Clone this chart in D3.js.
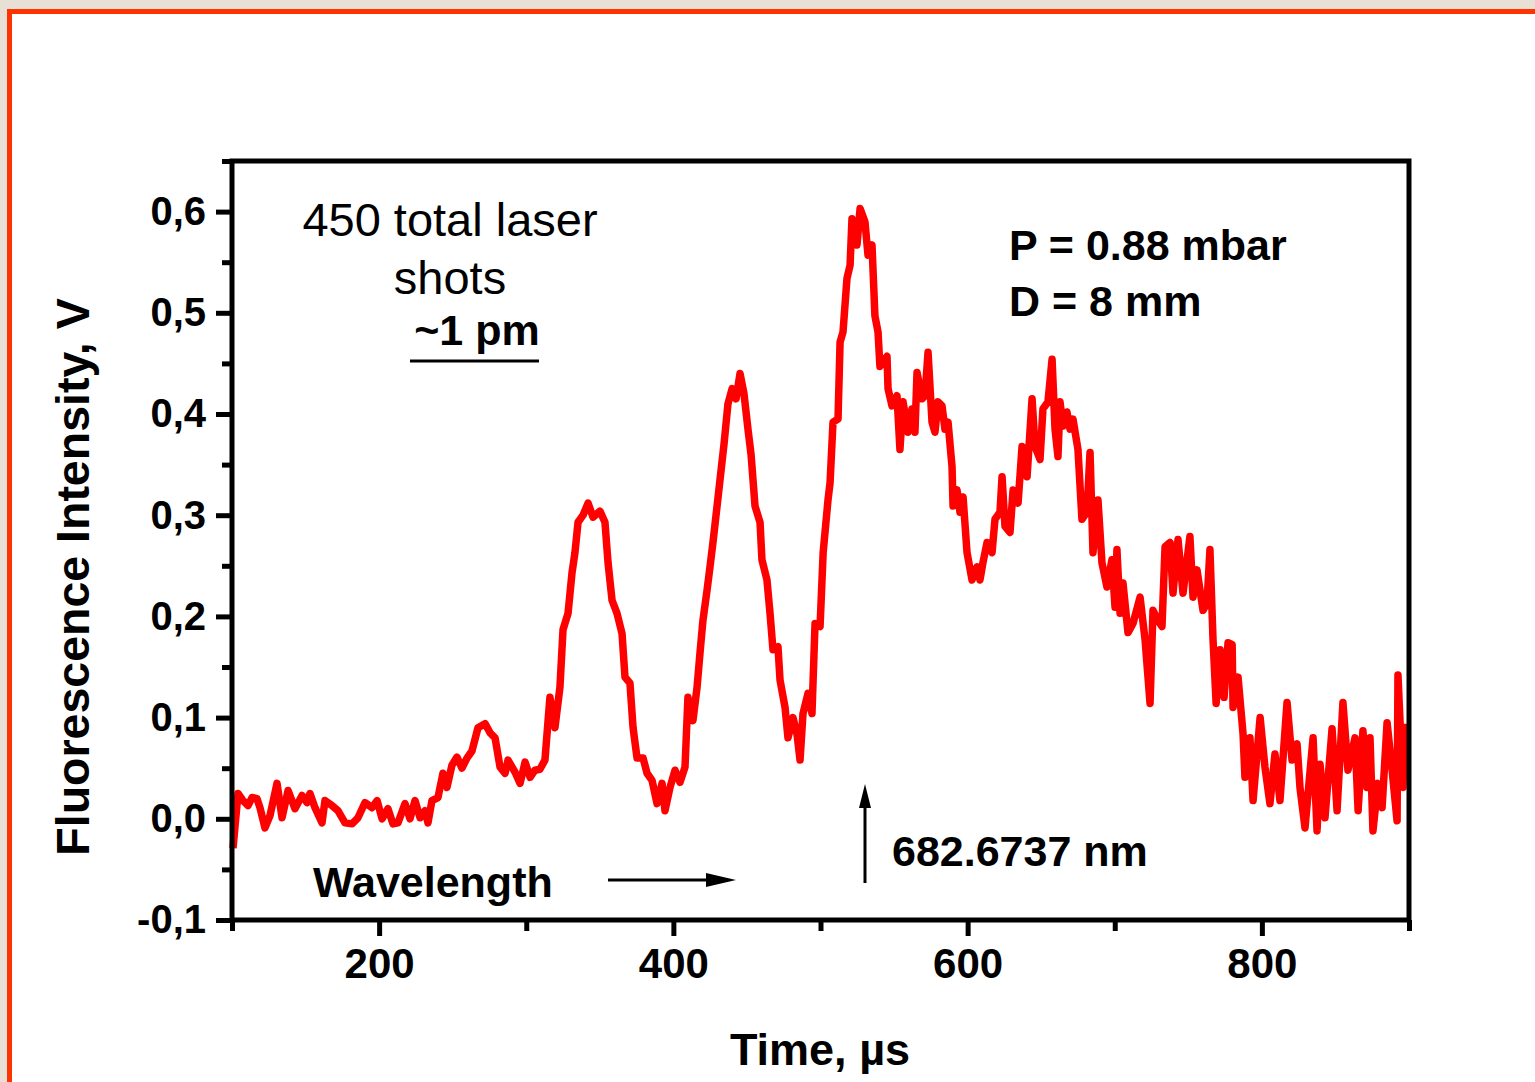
<!DOCTYPE html>
<html>
<head>
<meta charset="utf-8">
<script src="https://cdn.jsdelivr.net/npm/d3@7"></script>
<style>
  body { margin: 0; background: #e8e0d4; }
  svg { display: block; font-family: "Liberation Sans", Arial, sans-serif; }
  .axis text { font-weight: bold; fill: #000; }
  .axis line { stroke: #000; stroke-width: 5; }
  .axis path { display: none; }
</style>
</head>
<body>
<script>
// time in microseconds, fluorescence signal in volts
let timeUs = [
  100.7, 104.1, 107.5, 110.9, 113.6, 117.0, 119.0, 122.4, 125.8, 130.6,
  134.0, 138.1, 142.8, 147.6, 151.0, 153.0, 156.4, 161.2, 163.2, 168.0,
  172.0, 176.8, 181.6, 185.6, 190.4, 195.2, 198.6, 202.0, 206.0, 209.4,
  212.8, 217.6, 221.0, 224.4, 227.8, 231.2, 233.2, 235.9, 240.0, 243.4,
  246.1, 249.5, 252.9, 256.3, 259.7, 263.1, 267.2, 272.0, 275.4, 278.8,
  282.2, 285.6, 287.6, 292.4, 295.8, 299.2, 302.6, 305.9, 309.3, 312.7,
  316.1, 319.5, 322.9, 325.0, 328.4, 331.1, 333.1, 335.2, 338.6, 342.0,
  345.4, 350.1, 353.5, 355.6, 358.3, 361.7, 365.1, 367.1, 370.5, 372.6,
  375.3, 379.4, 382.1, 385.5, 388.9, 392.3, 394.3, 397.7, 401.1, 404.5,
  407.9, 409.9, 413.3, 416.1, 418.1, 420.1, 422.9, 424.9, 426.9, 429.7,
  431.7, 434.4, 437.1, 439.9, 442.6, 445.3, 448.0, 450.7, 452.8, 455.5,
  458.9, 460.2, 463.6, 465.7, 467.7, 471.1, 472.5, 475.9, 477.9, 481.3,
  484.0, 486.1, 488.1, 491.5, 494.2, 496.3, 499.7, 501.8, 505.1, 506.5,
  508.5, 511.9, 513.3, 515.3, 518.0, 520.1, 521.4, 524.8, 526.9, 530.2,
  532.3, 535.0, 537.0, 539.1, 540.4, 545.2, 545.9, 548.6, 552.0, 554.0,
  556.1, 559.5, 562.2, 564.2, 565.6, 569.0, 571.0, 573.1, 575.8, 577.8,
  579.9, 582.6, 584.6, 586.7, 589.4, 590.1, 592.8, 594.8, 596.9, 599.6,
  603.0, 606.4, 608.4, 610.4, 613.2, 616.6, 618.6, 622.0, 623.4, 625.4,
  628.8, 630.9, 634.3, 637.0, 640.4, 643.8, 645.8, 649.2, 651.2, 654.6,
  657.4, 659.4, 661.4, 662.8, 664.8, 667.5, 669.6, 671.6, 675.0, 677.7,
  681.1, 683.2, 685.2, 688.6, 691.3, 694.7, 698.1, 700.2, 701.5, 703.6,
  705.6, 709.0, 712.4, 717.2, 720.6, 724.0, 726.0, 729.4, 732.1, 734.2,
  737.6, 739.6, 743.0, 746.4, 751.1, 753.2, 755.9, 760.0, 762.7, 764.7,
  766.8, 768.9, 771.6, 774.3, 777.0, 779.8, 780.4, 783.8, 787.2, 788.5,
  791.9, 794.0, 798.8, 802.1, 805.5, 808.9, 812.3, 817.1, 820.5, 823.9,
  825.9, 829.3, 834.8, 837.5, 839.5, 842.9, 847.7, 851.1, 855.1, 858.5,
  863.3, 865.4, 868.7, 871.4, 873.5, 875.5, 878.9, 881.7, 885.1, 888.5,
  891.9, 892.5, 895.9, 897.3
]
let signalV = [
  -0.029, 0.025, 0.018, 0.013, 0.021, 0.020, 0.011, -0.009, 0.003, 0.035,
  0.001, 0.028, 0.010, 0.023, 0.016, 0.025, 0.011, -0.004, 0.018, 0.013,
  0.008, -0.004, -0.005, 0.001, 0.016, 0.011, 0.018, 0.000, 0.010, -0.005,
  -0.004, 0.015, 0.000, 0.018, 0.001, 0.008, -0.004, 0.018, 0.021, 0.045,
  0.031, 0.053, 0.061, 0.050, 0.060, 0.067, 0.090, 0.094, 0.085, 0.080,
  0.051, 0.045, 0.058, 0.046, 0.035, 0.056, 0.041, 0.048, 0.049, 0.058,
  0.120, 0.090, 0.130, 0.187, 0.203, 0.243, 0.263, 0.293, 0.300, 0.312,
  0.298, 0.304, 0.293, 0.253, 0.216, 0.203, 0.183, 0.140, 0.134, 0.090,
  0.060, 0.060, 0.045, 0.038, 0.015, 0.035, 0.008, 0.031, 0.048, 0.036,
  0.051, 0.120, 0.097, 0.130, 0.164, 0.196, 0.226, 0.249, 0.273, 0.309,
  0.335, 0.370, 0.410, 0.425, 0.415, 0.440, 0.420, 0.385, 0.360, 0.309,
  0.293, 0.256, 0.236, 0.203, 0.167, 0.170, 0.137, 0.110, 0.080, 0.100,
  0.084, 0.058, 0.104, 0.124, 0.104, 0.193, 0.190, 0.263, 0.315, 0.332,
  0.392, 0.395, 0.471, 0.481, 0.534, 0.547, 0.593, 0.567, 0.603, 0.590,
  0.557, 0.567, 0.497, 0.481, 0.447, 0.457, 0.425, 0.408, 0.418, 0.365,
  0.412, 0.382, 0.405, 0.382, 0.441, 0.415, 0.418, 0.461, 0.392, 0.382,
  0.412, 0.408, 0.385, 0.392, 0.348, 0.309, 0.325, 0.303, 0.318, 0.263,
  0.236, 0.249, 0.236, 0.253, 0.273, 0.263, 0.296, 0.303, 0.338, 0.289,
  0.283, 0.325, 0.312, 0.368, 0.338, 0.415, 0.368, 0.355, 0.405, 0.412,
  0.454, 0.385, 0.358, 0.412, 0.388, 0.402, 0.385, 0.395, 0.365, 0.296,
  0.303, 0.362, 0.263, 0.315, 0.253, 0.229, 0.256, 0.209, 0.266, 0.203,
  0.233, 0.184, 0.193, 0.219, 0.177, 0.114, 0.206, 0.196, 0.190, 0.269,
  0.273, 0.223, 0.276, 0.223, 0.279, 0.219, 0.246, 0.206, 0.213, 0.266,
  0.177, 0.114, 0.167, 0.120, 0.174, 0.172, 0.110, 0.140, 0.084, 0.041,
  0.080, 0.018, 0.100, 0.051, 0.015, 0.064, 0.018, 0.115, 0.058, 0.074,
  0.031, -0.009, 0.080, -0.012, 0.054, 0.001, 0.089, 0.008, 0.115, 0.048,
  0.080, 0.008, 0.087, 0.031, 0.080, -0.012, 0.035, 0.011, 0.095, 0.048,
  -0.002, 0.142, 0.031, 0.094
]
let xMajorTicks = [200, 400, 600, 800]
let xMinorTicks = [100, 300, 500, 700, 900]
let yMajorTicks = [-0.1, 0, 0.1, 0.2, 0.3, 0.4, 0.5, 0.6]
let yMinorTicks = [-0.05, 0.05, 0.15, 0.25, 0.35, 0.45, 0.55, 0.65]

let svgWidth = 1535
let svgHeight = 1082
let plot = { left: 232, right: 1409, top: 161, bottom: 920 }

let xScale = d3.scaleLinear().domain([100, 900]).range([plot.left, plot.right])
let yScale = d3.scaleLinear().domain([-0.1, 0.65]).range([plot.bottom, plot.top])

let svg = d3.select("body").append("svg")
    .attr("width", svgWidth)
    .attr("height", svgHeight)

// page background and orange frame
svg.append("rect").attr("width", svgWidth).attr("height", svgHeight).attr("fill", "#e8e0d4")
svg.append("rect").attr("x", 10).attr("y", 12).attr("width", svgWidth).attr("height", svgHeight).attr("fill", "#fff")
svg.append("line").attr("x1", 7).attr("x2", svgWidth).attr("y1", 11.5).attr("y2", 11.5)
    .attr("stroke", "#ff3300").attr("stroke-width", 5)
svg.append("line").attr("x1", 9.5).attr("x2", 9.5).attr("y1", 9).attr("y2", svgHeight)
    .attr("stroke", "#ff3300").attr("stroke-width", 5)

let fmtY = v => d3.format(".1f")(v).replace(".", ",").replace("−", "-")

// axes: major and minor ticks
svg.append("g").attr("class", "axis")
    .attr("transform", "translate(0," + plot.bottom + ")")
    .call(d3.axisBottom(xScale).tickValues(xMinorTicks).tickSize(11).tickFormat(""))
svg.append("g").attr("class", "axis")
    .attr("transform", "translate(0," + plot.bottom + ")")
    .call(d3.axisBottom(xScale).tickValues(xMajorTicks).tickSize(16).tickPadding(12))
    .selectAll("text").attr("font-size", 42)

svg.append("g").attr("class", "axis")
    .attr("transform", "translate(" + plot.left + ",0)")
    .call(d3.axisLeft(yScale).tickValues(yMinorTicks).tickSize(10).tickFormat(""))
svg.append("g").attr("class", "axis")
    .attr("transform", "translate(" + plot.left + ",0)")
    .call(d3.axisLeft(yScale).tickValues(yMajorTicks).tickSize(16).tickPadding(10).tickFormat(fmtY))
    .selectAll("text").attr("font-size", 40)

// signal line
let points = timeUs.map((t, i) => [t, signalV[i]])
svg.append("path")
    .datum(points)
    .attr("fill", "none")
    .attr("stroke", "#ff0000")
    .attr("stroke-width", 7.5)
    .attr("stroke-linejoin", "round")
    .attr("d", d3.line().x(d => xScale(d[0])).y(d => yScale(d[1])))

// plot frame
svg.append("rect")
    .attr("x", plot.left).attr("y", plot.top)
    .attr("width", plot.right - plot.left).attr("height", plot.bottom - plot.top)
    .attr("fill", "none").attr("stroke", "#000").attr("stroke-width", 5)

// axis titles
svg.append("text")
    .attr("x", 820).attr("y", 1065)
    .attr("text-anchor", "middle")
    .attr("font-size", 45).attr("font-weight", "bold")
    .text("Time, µs")
svg.append("text")
    .attr("transform", "translate(89,577) rotate(-90)")
    .attr("text-anchor", "middle")
    .attr("font-size", 46.5).attr("font-weight", "bold")
    .text("Fluorescence Intensity, V")

// annotations
svg.append("text").attr("x", 450).attr("y", 236).attr("text-anchor", "middle")
    .attr("font-size", 47).text("450 total laser")
svg.append("text").attr("x", 450).attr("y", 294).attr("text-anchor", "middle")
    .attr("font-size", 47).text("shots")
svg.append("text").attr("x", 477).attr("y", 345).attr("text-anchor", "middle")
    .attr("font-size", 43).attr("font-weight", "bold").text("~1 pm")
svg.append("line").attr("x1", 410).attr("x2", 539).attr("y1", 361).attr("y2", 361)
    .attr("stroke", "#000").attr("stroke-width", 3)

svg.append("text").attr("x", 1009).attr("y", 260)
    .attr("font-size", 43).attr("font-weight", "bold").text("P = 0.88 mbar")
svg.append("text").attr("x", 1009).attr("y", 316)
    .attr("font-size", 43).attr("font-weight", "bold").text("D = 8 mm")

svg.append("text").attr("x", 892).attr("y", 866)
    .attr("font-size", 43).attr("font-weight", "bold").text("682.6737 nm")
svg.append("text").attr("x", 313).attr("y", 897)
    .attr("font-size", 43).attr("font-weight", "bold").text("Wavelength")

// arrows
svg.append("line").attr("x1", 608).attr("x2", 712).attr("y1", 880).attr("y2", 880)
    .attr("stroke", "#000").attr("stroke-width", 3)
svg.append("path").attr("d", "M736,880 L706,873 L706,887 Z").attr("fill", "#000")
svg.append("line").attr("x1", 865).attr("x2", 865).attr("y1", 883).attr("y2", 805)
    .attr("stroke", "#000").attr("stroke-width", 3)
svg.append("path").attr("d", "M865,784 L859,808 L871,808 Z").attr("fill", "#000")
</script>
</body>
</html>
